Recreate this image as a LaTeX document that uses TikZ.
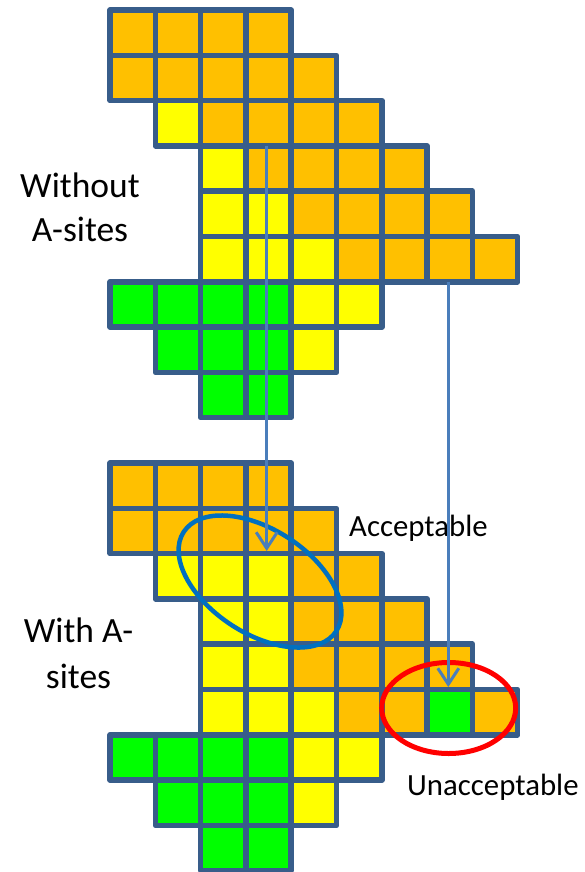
\documentclass[tikz,border=0pt]{standalone}
\usepackage{fontspec}
\setmainfont{Carlito}
\usetikzlibrary{arrows.meta}
\definecolor{gridline}{HTML}{385D8A}
\definecolor{cO}{HTML}{FFC000}
\definecolor{cY}{HTML}{FFFF00}
\definecolor{cG}{HTML}{00FF00}
\definecolor{arrowblue}{HTML}{4A7EBB}
\definecolor{ellblue}{HTML}{0070C0}
\definecolor{ellred}{HTML}{FF0000}
\begin{document}
\begin{tikzpicture}[x=1pt,y=-1pt,
  cell/.style={draw=gridline, line width=5.5pt, line join=round},
  mover/.style={draw=arrowblue, line width=3pt, -{Straight Barb[length=16pt,width=21pt]}},
  biglabel/.style={inner sep=0pt, anchor=base, font=\fontsize{35.5}{42}\selectfont},
  smalllabel/.style={inner sep=0pt, anchor=base west, font=\fontsize{30.8}{36}\selectfont},
  ring/.style={line width=#1}]
\useasboundingbox (0,0) rectangle (585,872);
\def\pitch{45.3}
% top grid
\foreach \r/\s/\seq in {0/0/{cO,cO,cO,cO},1/0/{cO,cO,cO,cO,cO},2/1/{cY,cO,cO,cO,cO},3/2/{cY,cO,cO,cO,cO},4/2/{cY,cY,cO,cO,cO,cO},5/2/{cY,cY,cY,cO,cO,cO,cO},6/0/{cG,cG,cG,cG,cY,cY},7/1/{cG,cG,cG,cY},8/2/{cG,cG}}{
  \foreach \k [count=\i] in \seq {
    \filldraw[cell, fill=\k] ({110+(\i-1+\s)*\pitch},{10+\r*\pitch}) rectangle ++(\pitch,\pitch);
  }
}
% bottom grid
\foreach \r/\s/\seq in {0/0/{cO,cO,cO,cO},1/0/{cO,cO,cO,cO,cO},2/1/{cY,cY,cY,cO,cO},3/2/{cY,cY,cO,cO,cO},4/2/{cY,cY,cO,cO,cO,cO},5/2/{cY,cY,cY,cO,cO,cG,cO},6/0/{cG,cG,cG,cG,cY,cY},7/1/{cG,cG,cG,cY},8/2/{cG,cG}}{
  \foreach \k [count=\i] in \seq {
    \filldraw[cell, fill=\k] ({110+(\i-1+\s)*\pitch},{463+\r*\pitch}) rectangle ++(\pitch,\pitch);
  }
}
% labels
\node[biglabel] (w1) at (80,197) {Without};
\node[biglabel] (w2) at (80,241.7) {A-sites};
\node[biglabel] (wa1) at (78.5,642.3) {With A-};
\node[biglabel] (wa2) at (78.5,688) {sites};
\node[smalllabel] (acc) at (349,536.7) {Acceptable};
\node[smalllabel] (unacc) at (407,795) {Unacceptable};
% ellipses
\draw[ring=4.5pt, ellblue, rotate around={-33:(260,581.5)}] (260,581.5) ellipse [x radius=91pt, y radius=52pt];
\draw[ring=5pt, ellred] (448.7,708) ellipse [x radius=67pt, y radius=45.5pt];
% arrows
\coordinate (a1s) at (266.7,145.7);
\coordinate (a1e) at (266.7,551);
\coordinate (a2s) at (448.3,281.7);
\coordinate (a2e) at (448.3,687);
\draw[mover] (a1s) -- (a1e);
\draw[mover] (a2s) -- (a2e);
\end{tikzpicture}
\end{document}
